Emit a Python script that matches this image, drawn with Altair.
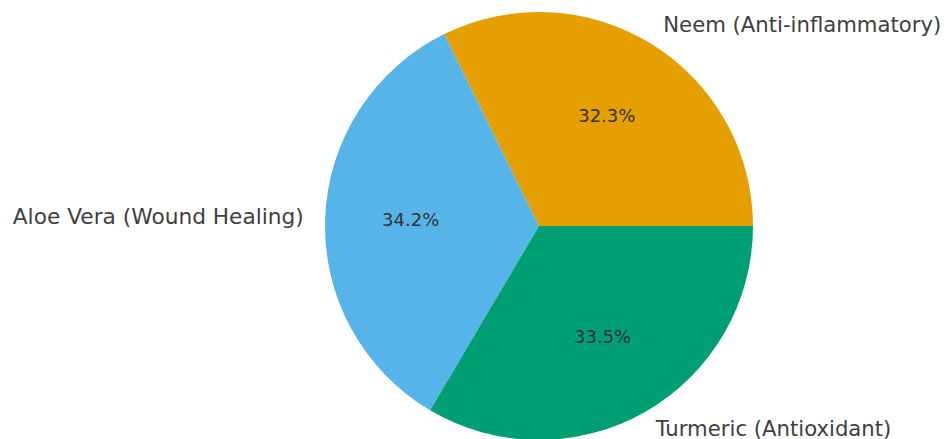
import altair as alt
import pandas as pd
import math

categories = ["Neem (Anti-inflammatory)", "Aloe Vera (Wound Healing)", "Turmeric (Antioxidant)"]
values = [32.3, 34.2, 33.5]
colors = ["#E69F00", "#56B4E9", "#009E73"]
# stacking order clockwise from 3 o'clock (mimics matplotlib counter-clockwise from 0 deg)
order = [2, 1, 0]
align = ["left", "right", "left"]

df = pd.DataFrame({
    "category": categories,
    "value": values,
    "ord": order,
    "pct": [f"{v:.1f}%" for v in values],
    "lab_left": [c if a == "left" else "" for c, a in zip(categories, align)],
    "lab_right": [c if a == "right" else "" for c, a in zip(categories, align)],
})

CX, CY, R = 531, 218, 214
theta = alt.Theta("value:Q", stack=True,
                  scale=alt.Scale(range=[math.pi / 2, math.pi / 2 + 2 * math.pi]))
color = alt.Color("category:N", scale=alt.Scale(domain=categories, range=colors), legend=None)

base = alt.Chart(df).encode(
    theta=theta,
    order=alt.Order("ord:Q"),
    x=alt.value(CX),
    y=alt.value(CY),
)

pie = base.mark_arc(outerRadius=R, stroke=None).encode(color=color)

pct = base.mark_text(radius=R * 0.6, font="DejaVu Sans", fontSize=18,
                     color="#333333", align="center", baseline="middle").encode(text="pct:N")

lab_l = base.mark_text(radius=R * 1.1, font="DejaVu Sans", fontSize=21.2,
                       color="#404040", align="left", baseline="middle").encode(text="lab_left:N")
lab_r = base.mark_text(radius=R * 1.1, font="DejaVu Sans", fontSize=21.7,
                       color="#404040", align="right", baseline="middle").encode(text="lab_right:N")

chart = alt.layer(pie, pct, lab_l, lab_r).properties(
    width=936, height=431, padding=0, autosize=alt.AutoSizeParams(type="none")
).configure_view(stroke=None)

chart.save("out.html", embed_options={"renderer": "svg", "actions": False})
